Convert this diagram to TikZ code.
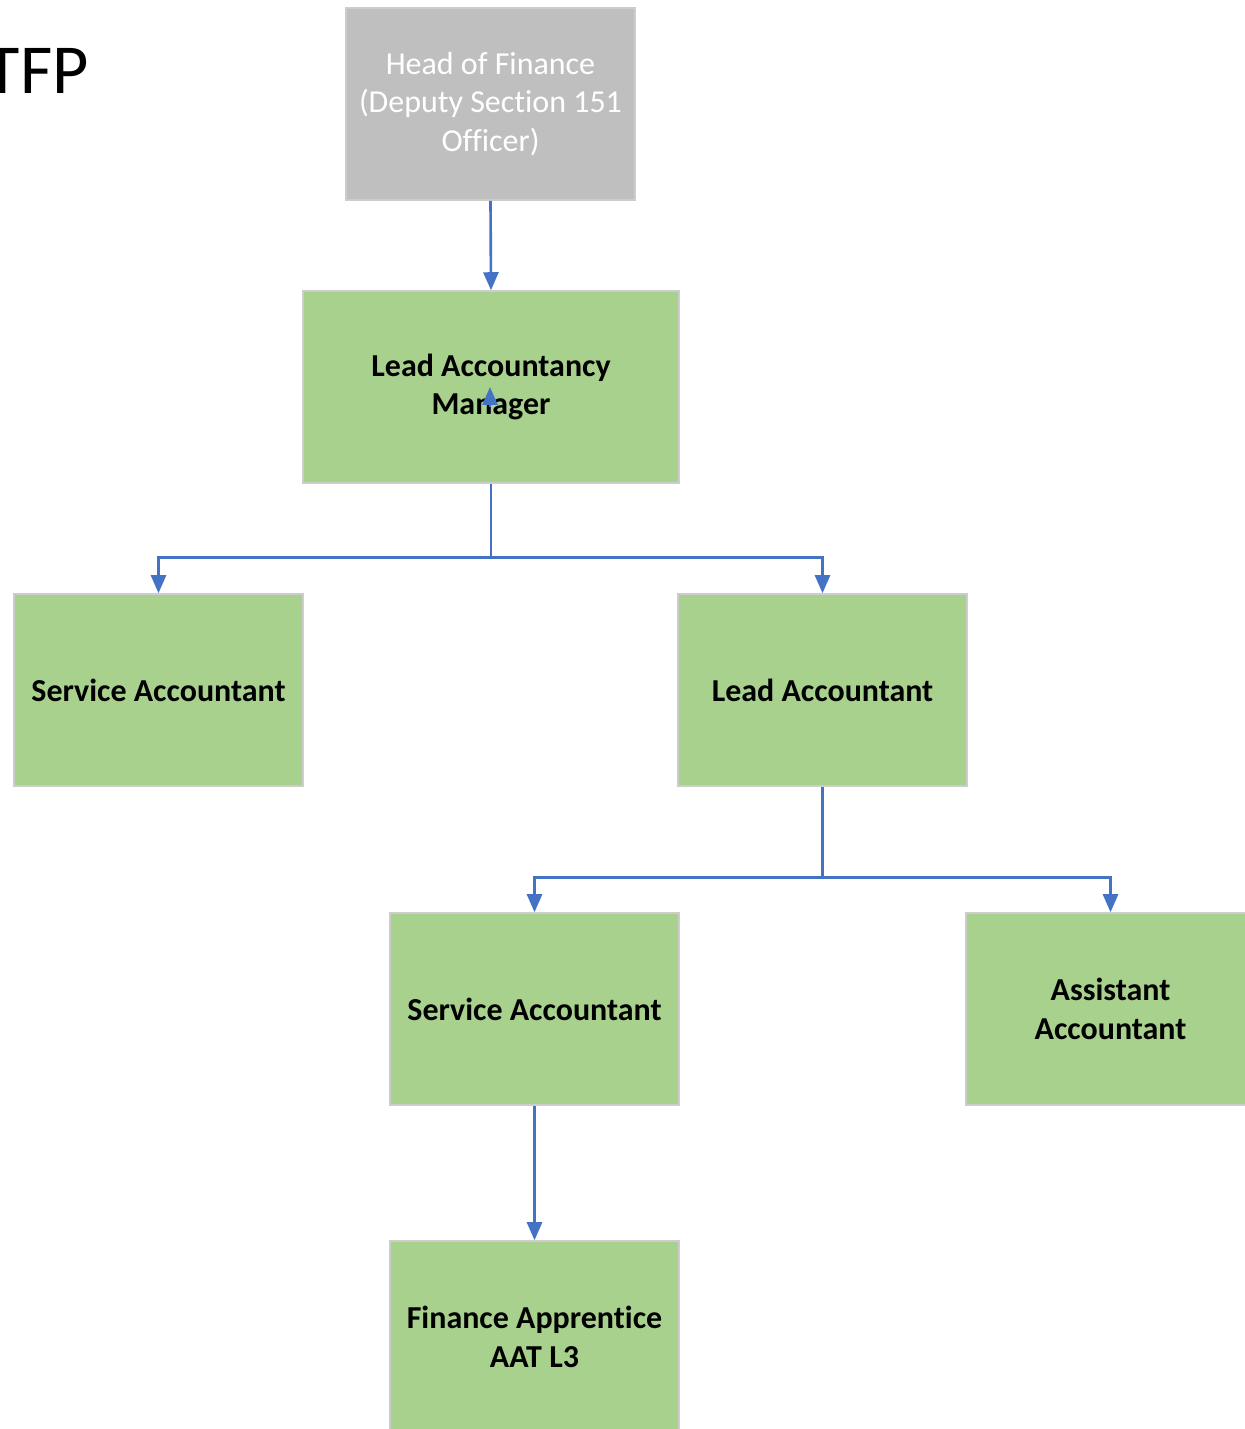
\documentclass[tikz,border=0pt]{standalone}
\usepackage{fontspec}
\setmainfont[Ligatures=NoCommon]{Carlito}
\usetikzlibrary{positioning,arrows.meta}
\definecolor{tfGreen}{RGB}{169,209,142}
\definecolor{tfGray}{RGB}{191,191,191}
\definecolor{tfEdge}{RGB}{205,205,205}
\definecolor{tfBlue}{RGB}{68,114,196}
\tikzset{
    base/.style={align=center, font=\fontsize{18.2}{21.8}\selectfont},
    post/.style={base, rectangle, draw=tfEdge, line width=0.9pt, fill=tfGreen,
                 minimum width=5.78cm, minimum height=3.84cm, font=\fontsize{18.2}{21.8}\selectfont\bfseries},
    head/.style={base, rectangle, draw=tfEdge, line width=0.9pt, fill=tfGray, text=white,
                 minimum width=5.78cm, minimum height=3.84cm},
    wide/.style={post, minimum width=7.52cm},
    flow/.style={-{Triangle[length=0.36cm, width=0.3cm]}, line width=1.5pt, color=tfBlue},
    title/.style={font=\fontsize{40}{48}\selectfont, inner sep=0pt}
}
\begin{document}
\begin{tikzpicture}[x=0.02cm, y=-0.02cm]
  \useasboundingbox (0,0) rectangle (1244,1429);
  % Title
  \node[title, anchor=east] (tfp) at (89,71) {TFP};

  % Posts
  \node[head] (hof) at (490.5,104) {Head of Finance\\(Deputy Section 151\\Officer)};
  \node[wide] (lam) at (491,387) {Lead Accountancy\\Manager};
  \node[post] (sa1) at (158.5,690) {Service Accountant};
  \node[post] (la) at (822.5,690) {Lead Accountant};
  \node[post] (sa2) at (534.5,1009) {Service Accountant};
  \node[post] (aa) at (1110.5,1009) {Assistant\\Accountant};
  \node[post] (fa) at (534.5,1337) {Finance Apprentice\\AAT L3};

  % Connectors
  \draw[flow] (hof.south) -- (lam.north);
  \draw[flow] (lam.south) -- ++(0,74) -| (sa1.north);
  \draw[flow] (lam.south) -- ++(0,74) -| (la.north);
  \draw[flow] (la.south) -- ++(0,91) -| (sa2.north);
  \draw[flow] (la.south) -- ++(0,91) -| (aa.north);
  \draw[flow] (sa2.south) -- (fa.north);

  % Stray tip inside the manager box
  \coordinate (stubA) at (490,407);
  \coordinate (stubB) at (490,387);
  \draw[flow] (stubA) -- (stubB);
\end{tikzpicture}
\end{document}
